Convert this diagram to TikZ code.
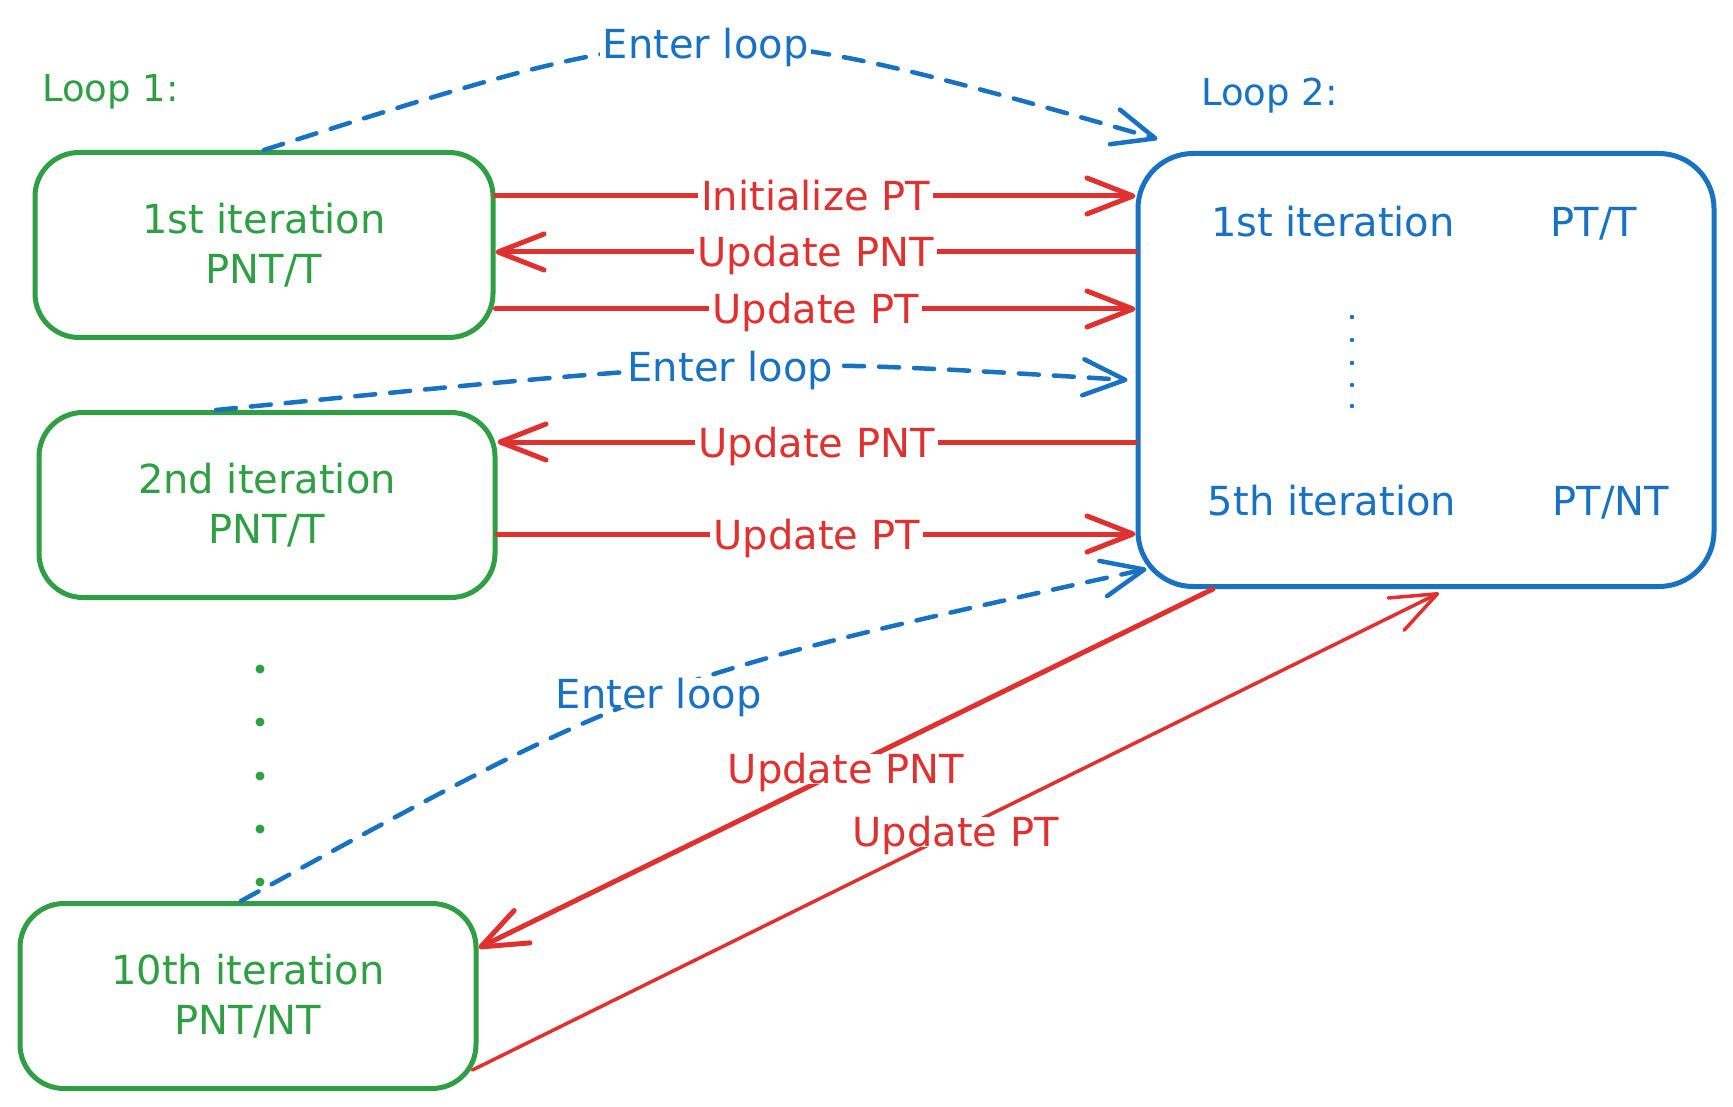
\documentclass[tikz,border=0pt]{standalone}
\usepackage{fontspec}
\setmainfont{DejaVu Sans}
\usetikzlibrary{arrows.meta,calc}
\definecolor{exgreen}{HTML}{2F9E44}
\definecolor{exblue}{HTML}{1971C2}
\definecolor{exred}{HTML}{E03131}
\begin{document}
\begin{tikzpicture}[x=1pt,y=-1pt,
  gbox/.style={draw=exgreen, line width=5pt, rounded corners=44pt, minimum width=458pt, minimum height=185pt, align=center, text=exgreen, font=\fontsize{40}{50}\selectfont, inner sep=0pt},
  bbox/.style={draw=exblue, line width=5pt, rounded corners=55pt, minimum width=576pt, minimum height=433pt, inner sep=0pt},
  btext/.style={text=exblue, font=\fontsize{40}{48}\selectfont, inner sep=0pt},
  looplab/.style={anchor=base west, font=\fontsize{37}{40}\selectfont, inner sep=0pt},
  redarr/.style={draw=exred, line width=5pt, line cap=round, -{Straight Barb[length=46pt,width=36pt,round]}},
  bluedash/.style={draw=exblue, line width=4.5pt, line cap=round, dash pattern=on 20pt off 15pt, -{Straight Barb[length=42pt,width=36pt,round]}},
  rlab/.style={fill=white, text=exred, font=\fontsize{40}{48}\selectfont, inner xsep=3pt, inner ysep=0pt, text height=30pt, text depth=0pt},
  blab/.style={fill=white, text=exblue, font=\fontsize{40}{48}\selectfont, inner xsep=3pt, inner ysep=0pt, text height=30pt, text depth=0pt}
]
\fill[white] (0,0) rectangle (1733,1107);
\useasboundingbox (0,0) rectangle (1733,1107);

% loop labels
\node[looplab, text=exgreen] (l1) at (42,102) {Loop 1:};
\node[looplab, text=exblue] (l2) at (1201,106) {Loop 2:};

% loop 1 boxes
\node[gbox] (b1) at (264,245) {1st iteration\\PNT/T};
\node[gbox, minimum width=456pt] (b2) at (267,505) {2nd iteration\\PNT/T};
\node[gbox, minimum width=456pt] (b3) at (248,996) {10th iteration\\PNT/NT};

% loop 2 box
\node[bbox] (big) at (1426,370) {};
\node[btext, anchor=base] (t1) at (1333,237) {1st iteration};
\node[btext, anchor=base] (t2) at (1594,237) {PT/T};
\node[btext, anchor=base] (t3) at (1332,515) {5th iteration};
\node[btext, anchor=base] (t4) at (1611,515) {PT/NT};

% dots
\foreach \yy in {669,722,776,829,882} \fill[exgreen] (260,\yy) circle (4.5pt);
\foreach \yy in {317,340,363,385,406} \fill[exblue] (1352,\yy) circle (2.2pt);

% horizontal red arrows
\coordinate (r1) at ($(b1.east)+(0,-49)$);
\coordinate (r2) at ($(b1.east)+(0,7)$);
\coordinate (r3) at ($(b1.east)+(0,64)$);
\coordinate (r4) at ($(b2.east)+(0,-63)$);
\coordinate (r5) at ($(b2.east)+(0,29)$);
\draw[redarr] (r1) -- (r1 -| big.west) node[rlab, midway] {Initialize PT};
\draw[redarr] (r2 -| big.west) -- (r2) node[rlab, midway] {Update PNT};
\draw[redarr] (r3) -- (r3 -| big.west) node[rlab, midway] {Update PT};
\draw[redarr] (r4 -| big.west) -- (r4) node[rlab, midway] {Update PNT};
\draw[redarr] (r5) -- (r5 -| big.west) node[rlab, midway] {Update PT};

% diagonal red arrows
\draw[redarr] ($(big.south)+(-213,0)$) -- ($(b3.east)+(0,-48)$) node[rlab, midway] {Update PNT};
\draw[redarr, line width=3.5pt] ($(b3.east)+(-6,74)$) -- ($(big.south)+(13,4)$) node[rlab, midway] {Update PT};

% enter loop dashed arrows
\draw[bluedash] (b1.north) .. controls (704,10) .. ($(big.north west)+(22,-12)$) node[blab, pos=0.5] {Enter loop};
\draw[bluedash] ($(b2.north)+(-51,0)$) .. controls (750,357) .. ($(big.west)+(-8,10)$) node[blab, pos=0.5] {Enter loop};
\draw[bluedash] ($(b3.north)+(-7,0)$) .. controls (647,679) .. ($(big.south west)+(11,-20)$) node[blab, pos=0.5] {Enter loop};
\end{tikzpicture}
\end{document}
